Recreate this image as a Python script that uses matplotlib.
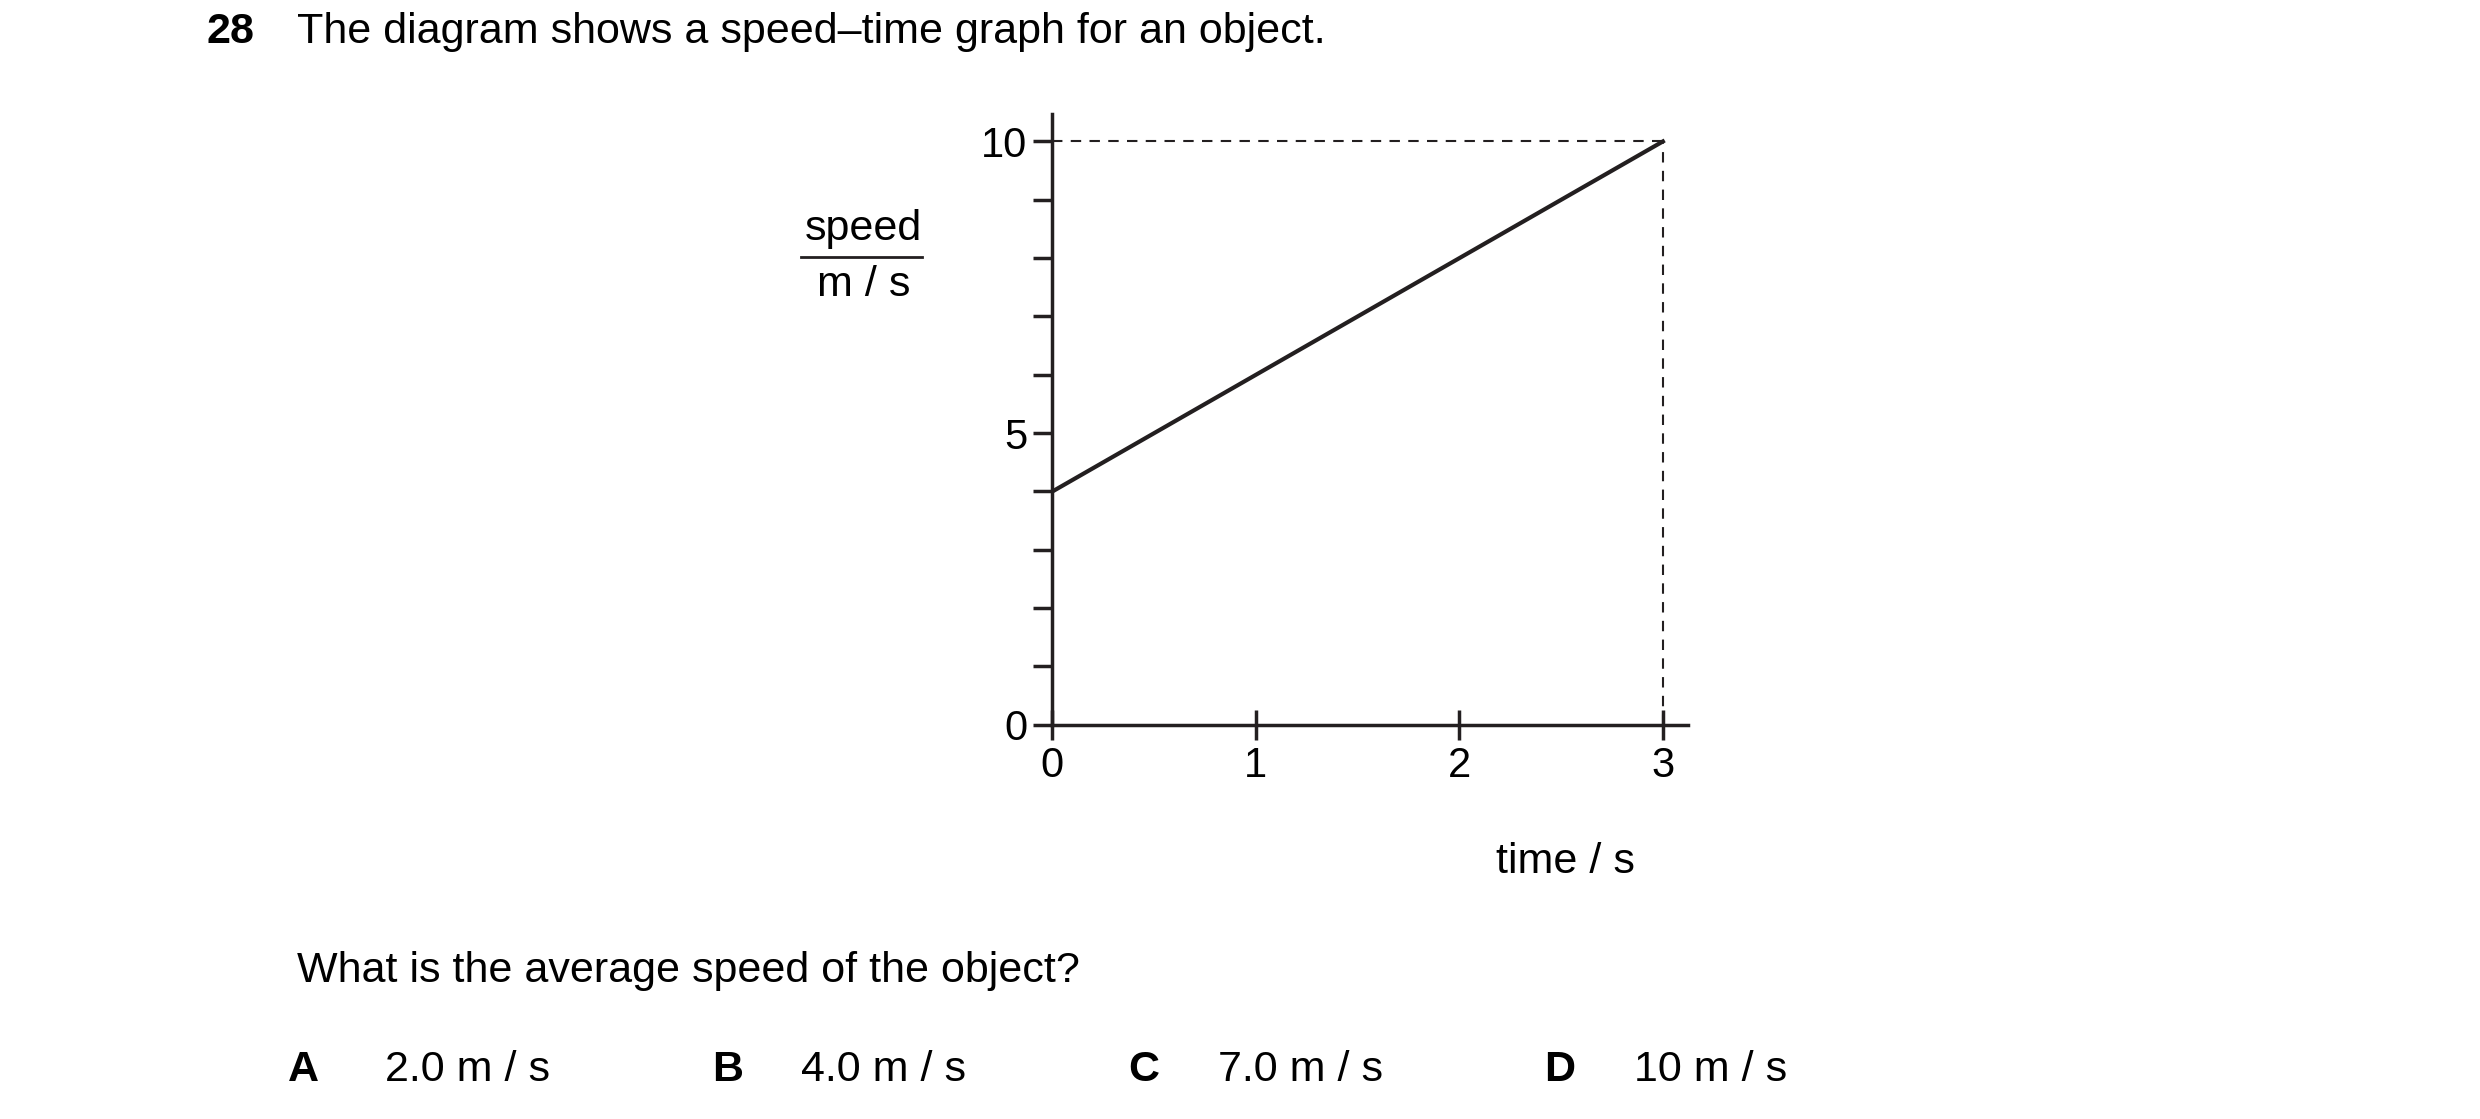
import matplotlib
matplotlib.use("Agg")
import matplotlib.pyplot as plt

plt.rcParams['font.family'] = ['Liberation Sans', 'DejaVu Sans']

time_s = [0, 3]
speed = [4, 10]
x_ticks = [0, 1, 2, 3]
y_major = [0, 5, 10]
y_minor = list(range(0, 11))
options = [("A", "2.0 m / s"), ("B", "4.0 m / s"), ("C", "7.0 m / s"), ("D", "10 m / s")]

fig = plt.figure(figsize=(24.8, 11.19), dpi=100)
W, H = 1560, 704
def fx(x): return x / W
def fy(y): return 1 - y / H

x0, x3 = 662, 1046
y0, y10 = 456, 89
xmax = 3 * (1062 - x0) / (x3 - x0)
ymax = 10 * (y0 - 72) / (y0 - y10)
ax = fig.add_axes([fx(x0), fy(y0), fx(1062 - x0), (y0 - 72) / H])
ax.set_xlim(0, xmax)
ax.set_ylim(0, ymax)
for s in ['top', 'right']:
    ax.spines[s].set_visible(False)
for s in ['left', 'bottom']:
    ax.spines[s].set_linewidth(2.5)
    ax.spines[s].set_color('#231f20')
ax.plot(time_s, speed, color='#231f20', lw=3)
ax.plot([0, 3], [10, 10], color='#231f20', lw=1.5, ls=(0, (5, 4)))
ax.plot([3, 3], [0, 10], color='#231f20', lw=1.5, ls=(0, (5, 4)))
ax.set_xticks(x_ticks)
ax.set_xticklabels([str(v) for v in x_ticks])
ax.set_yticks(y_major)
ax.set_yticks(y_minor, minor=True)
ax.tick_params(axis='x', direction='inout', length=22, width=2.5, labelsize=30, pad=4, color='#231f20')
ax.tick_params(axis='y', which='both', direction='out', length=14, width=2.5, labelsize=30, pad=4, color='#231f20')
ax.patch.set_alpha(0)

fs = 31
fig.text(fx(130), fy(20), "28", fontsize=fs, fontweight='bold', va='center')
fig.text(fx(187), fy(20), "The diagram shows a speed–time graph for an object.", fontsize=fs, va='center')
fig.text(fx(543), fy(144), "speed", fontsize=fs, ha='center', va='center')
fig.lines.append(plt.Line2D([fx(504), fx(580)], [fy(162), fy(162)], color='#231f20', lw=2, transform=fig.transFigure))
fig.text(fx(543), fy(179), "m / s", fontsize=fs, ha='center', va='center')
fig.text(fx(985), fy(542), "time / s", fontsize=fs, ha='center', va='center')
fig.text(fx(187), fy(611), "What is the average speed of the object?", fontsize=fs, va='center')
xs = [(181, 242), (448, 504), (710, 766), (971, 1028)]
for (lx, vx), (l, v) in zip(xs, options):
    fig.text(fx(lx), fy(673), l, fontsize=fs, fontweight='bold', va='center')
    fig.text(fx(vx), fy(673), v, fontsize=fs, va='center')

fig.savefig("out.png", dpi=100)
